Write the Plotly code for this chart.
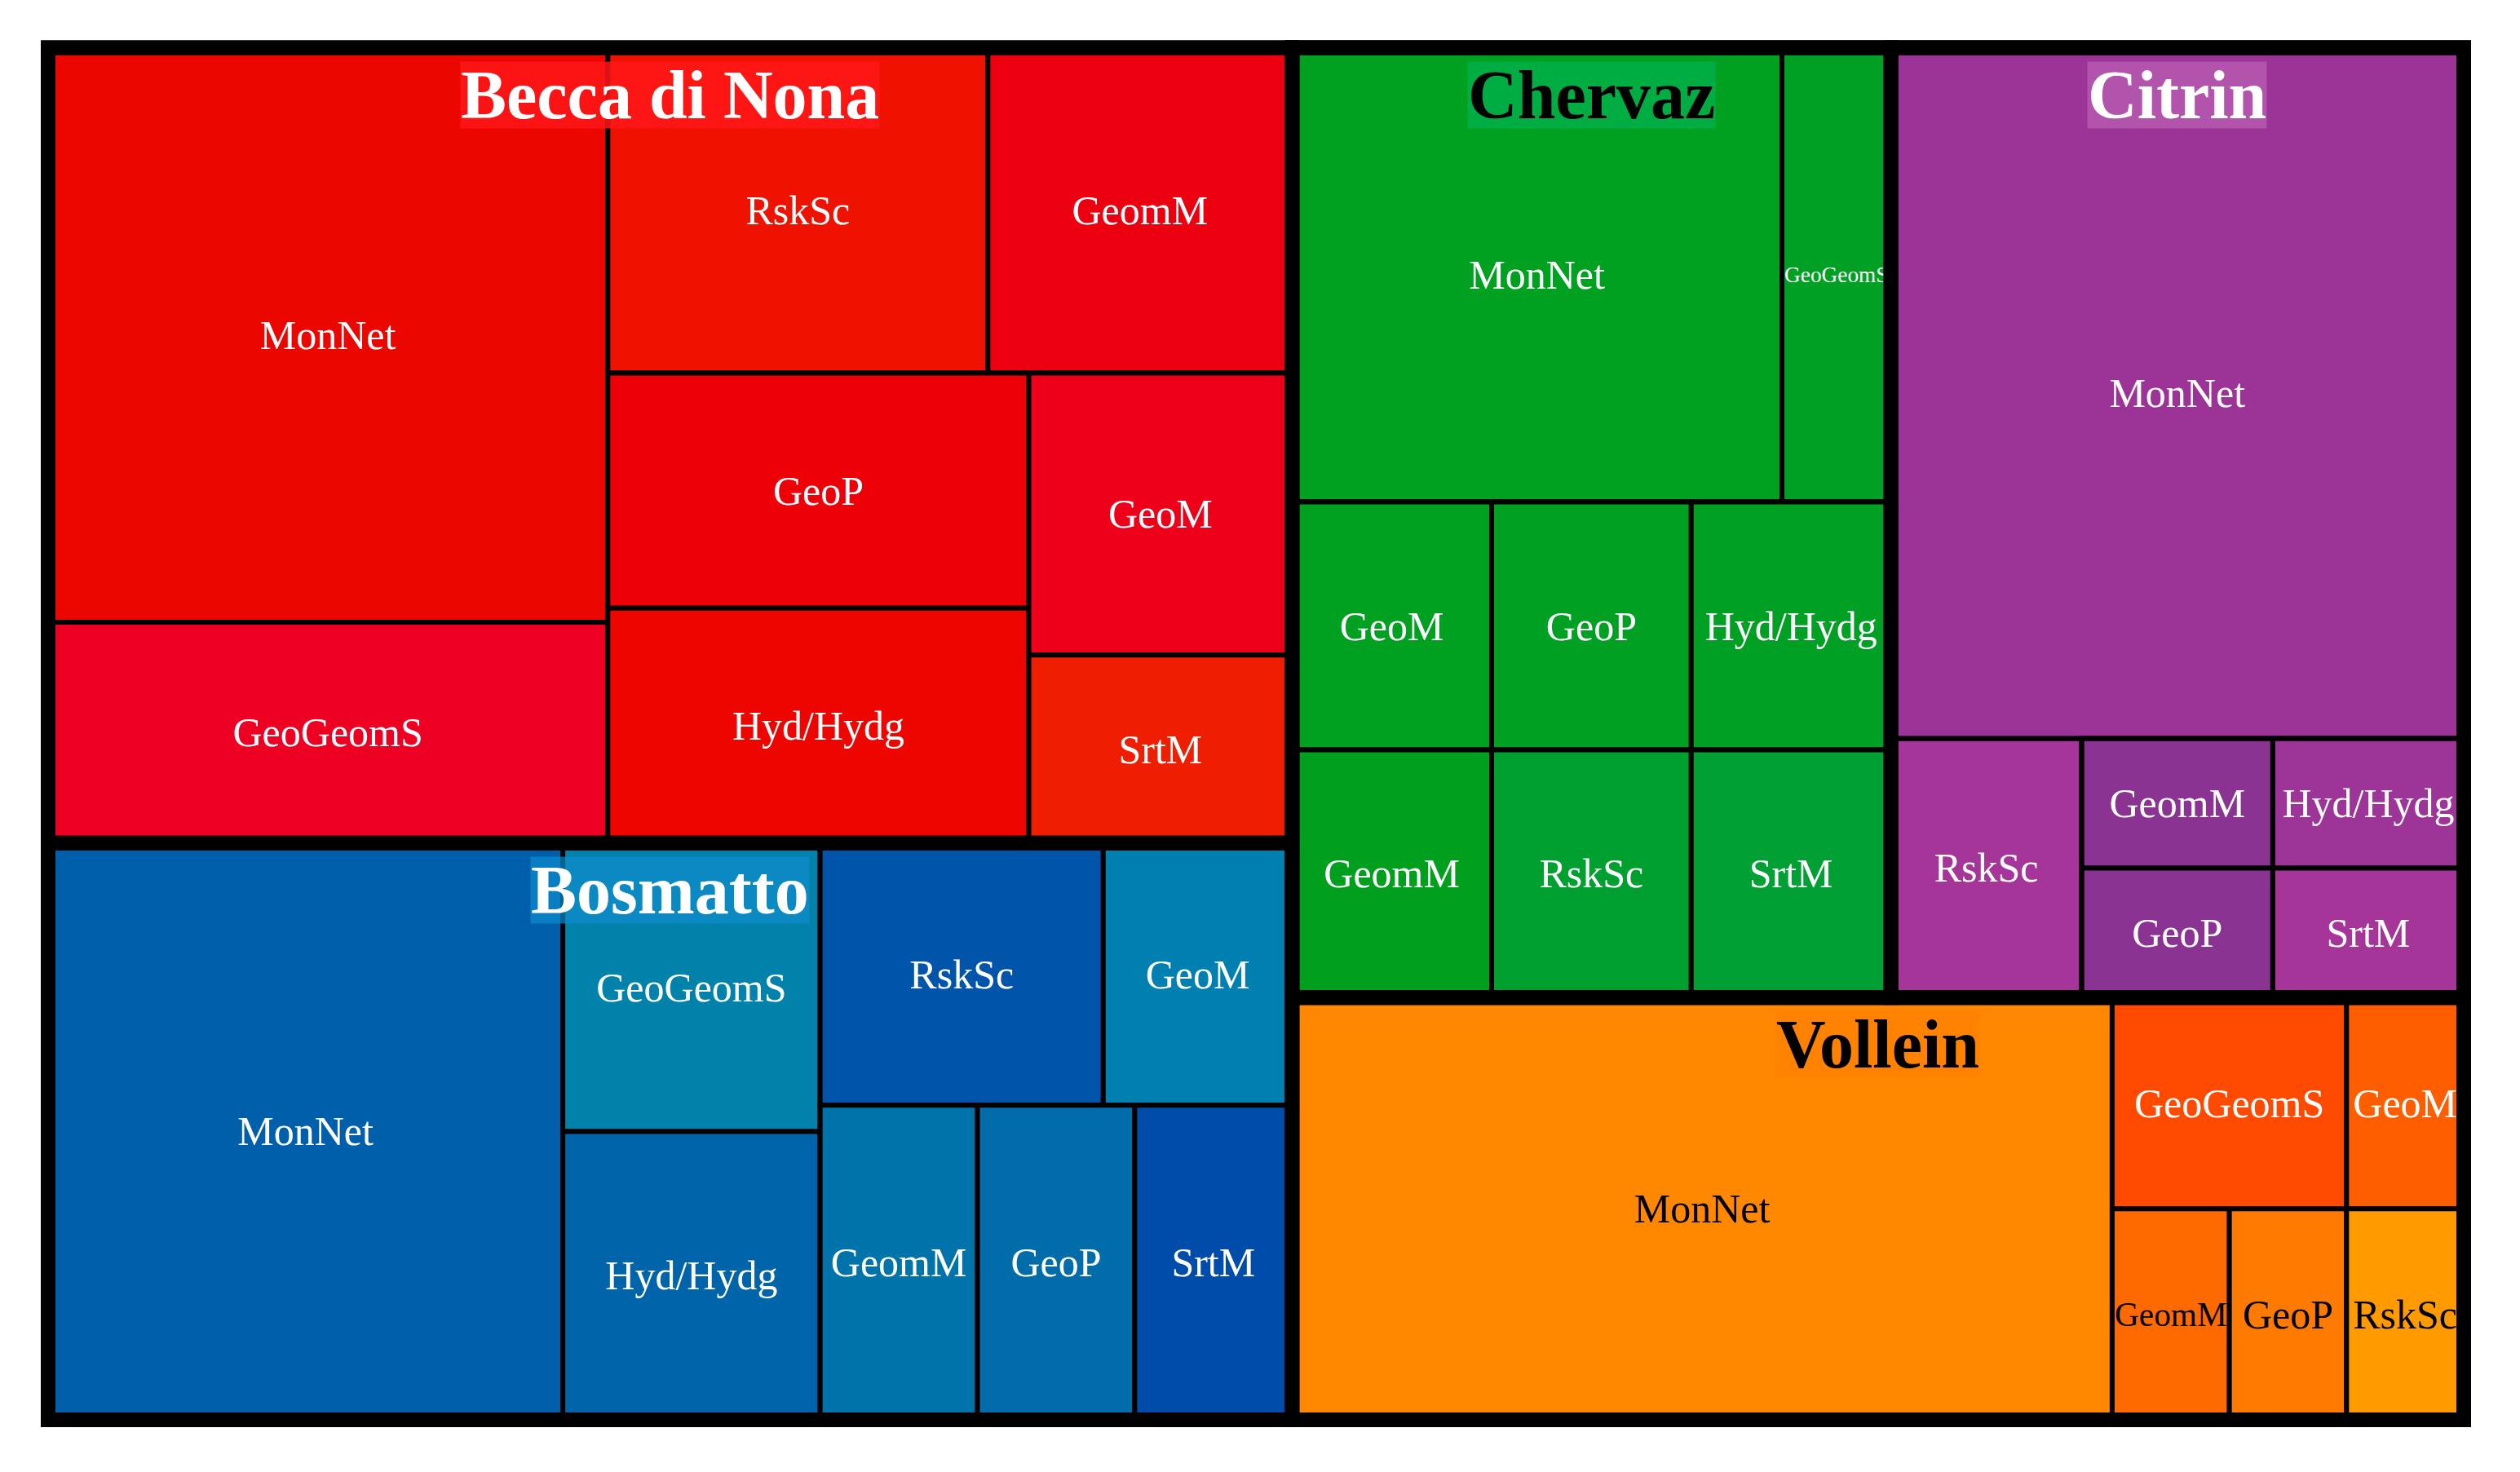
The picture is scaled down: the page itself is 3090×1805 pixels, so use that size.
import plotly.graph_objects as go

# sites (top level) and where they sit in the slice/dice nesting
sites = ["Becca di Nona", "Bosmatto", "Chervaz", "Citrin", "Vollein"]
site_blocks = ["L", "L", "R/T", "R/T", "R"]
site_label_colors = ["white", "white", "black", "white", "black"]
site_label_bg = ["rgba(255,24,24,0.85)", "rgba(14,140,205,0.7)", "rgba(0,178,78,0.75)",
                 "rgba(190,100,185,0.65)", "rgba(255,126,0,0.6)"]

becca_tiles = ["MonNet", "GeoGeomS", "RskSc", "GeomM", "GeoP", "Hyd/Hydg", "GeoM", "SrtM"]
becca_counts = [13, 5, 5, 4, 4, 4, 3, 2]
becca_blocks = ["a", "a", "b/a", "b/a", "b/b/a", "b/b/a", "b/b/b", "b/b/b"]
becca_colors = ["#EC0600", "#EE0022", "#EF1200", "#EC0010", "#EE0008", "#EE0500", "#EE001A", "#F01E00"]
becca_text = ["white"] * 8

bosmatto_tiles = ["MonNet", "GeoGeomS", "Hyd/Hydg", "RskSc", "GeoM", "GeomM", "GeoP", "SrtM"]
bosmatto_counts = [12, 3, 3, 3, 2, 2, 2, 2]
bosmatto_blocks = ["", "a", "a", "b/a", "b/a", "b/b", "b/b", "b/b"]
bosmatto_colors = ["#005FAA", "#0082AA", "#0064AA", "#0055AA", "#0080B0", "#0073AA", "#006CAA", "#004CAA"]
bosmatto_text = ["white"] * 8

chervaz_tiles = ["MonNet", "GeoGeomS", "GeoM", "GeomM", "GeoP", "RskSc", "Hyd/Hydg", "SrtM"]
chervaz_counts = [9, 2, 2, 2, 2, 2, 2, 2]
chervaz_blocks = ["a", "a", "b/a", "b/a", "b/b", "b/b", "b/c", "b/c"]
chervaz_colors = ["#00A020", "#00A024", "#00A020", "#00A01E", "#00A022", "#00A030", "#00A024", "#00A035"]
chervaz_text = ["white"] * 8

citrin_tiles = ["MonNet", "RskSc", "GeomM", "Hyd/Hydg", "GeoP", "SrtM"]
citrin_counts = [16, 2, 1, 1, 1, 1]
citrin_blocks = ["", "a", "a/g/a", "a/g/a", "a/g/b", "a/g/b"]
citrin_colors = ["#9B3496", "#A63599", "#8A3393", "#9C3597", "#8A3393", "#A63599"]
citrin_text = ["white"] * 6

vollein_tiles = ["MonNet", "GeoGeomS", "GeoM", "GeomM", "GeoP", "RskSc"]
vollein_counts = [14, 2, 1, 1, 1, 1]
vollein_blocks = ["", "a/a", "a/a", "a/b", "a/b", "a/b"]
vollein_colors = ["#FF8800", "#FF4A00", "#FF5E00", "#FF6A00", "#FF7A00", "#FF9A00"]
vollein_text = ["black", "white", "white", "black", "black", "black"]

site_tiles = [becca_tiles, bosmatto_tiles, chervaz_tiles, citrin_tiles, vollein_tiles]
site_counts = [becca_counts, bosmatto_counts, chervaz_counts, citrin_counts, vollein_counts]
site_tile_blocks = [becca_blocks, bosmatto_blocks, chervaz_blocks, citrin_blocks, vollein_blocks]
site_colors = [becca_colors, bosmatto_colors, chervaz_colors, citrin_colors, vollein_colors]
site_text = [becca_text, bosmatto_text, chervaz_text, citrin_text, vollein_text]

W, H = 3090, 1805
dom_x = [51 / W, 3013 / W]
dom_y = [1 - 1733 / H, 1 - 50.5 / H]


class Tree:
    def __init__(self):
        self.ids, self.labels, self.parents, self.values = [], [], [], []
        self.colors, self.text, self.tcolors = [], [], []

    def add(self, nid, parent, value=0, color="black", txt="", tcolor="white"):
        self.ids.append(nid)
        self.labels.append(txt)
        self.parents.append(parent)
        self.values.append(value)
        self.colors.append(color)
        self.text.append(txt)
        self.tcolors.append(tcolor)

    def ensure(self, base, block, color="black"):
        cur = base
        if block:
            for seg in block.split("/"):
                nxt = cur + "/" + seg
                if nxt not in self.ids:
                    self.add(nxt, cur, color=color)
                cur = nxt
        return cur


tiles = Tree()
frame = Tree()
tiles.add("root", "")
frame.add("root", "", color="rgba(0,0,0,0)")
for i, site in enumerate(sites):
    blk = tiles.ensure("root", site_blocks[i])
    frame.ensure("root", site_blocks[i], color="rgba(0,0,0,0)")
    sid = blk + "/" + site
    tiles.add(sid, blk)
    frame.add(sid, blk, value=sum(site_counts[i]), color="rgba(0,0,0,0)")
    for j, name in enumerate(site_tiles[i]):
        pid = tiles.ensure(sid, site_tile_blocks[i][j])
        tiles.add(pid + "/" + name, pid, site_counts[i][j], site_colors[i][j],
                  name, site_text[i][j])

fig = go.Figure()
fig.add_trace(go.Treemap(
    ids=tiles.ids, labels=tiles.labels, parents=tiles.parents, values=tiles.values,
    branchvalues="remainder", sort=False,
    tiling=dict(packing="slice-dice", pad=0),
    marker=dict(colors=tiles.colors, line=dict(color="black", width=6),
                pad=dict(t=0, l=0, r=0, b=0)),
    text=tiles.text, textinfo="text", textposition="middle center",
    textfont=dict(family="Liberation Serif", size=50, color=tiles.tcolors),
    pathbar=dict(visible=False), root=dict(color="black"),
    domain=dict(x=dom_x, y=dom_y), hoverinfo="skip",
))
# thick frame around each site, drawn on top with the same layout
fig.add_trace(go.Treemap(
    ids=frame.ids, labels=frame.labels, parents=frame.parents, values=frame.values,
    branchvalues="remainder", sort=False,
    tiling=dict(packing="slice-dice", pad=0),
    marker=dict(colors=frame.colors, line=dict(color="black", width=18),
                pad=dict(t=0, l=0, r=0, b=0)),
    text=frame.text, textinfo="text",
    pathbar=dict(visible=False), root=dict(color="rgba(0,0,0,0)"),
    domain=dict(x=dom_x, y=dom_y), hoverinfo="skip",
))

# site titles at the top centre of each site block
tot = [sum(c) for c in site_counts]
fl = (tot[0] + tot[1]) / sum(tot)
ft = (tot[2] + tot[3]) / (tot[2] + tot[3] + tot[4])
fc = tot[2] / (tot[2] + tot[3])
dw = dom_x[1] - dom_x[0]
dh = dom_y[1] - dom_y[0]
cx = [dom_x[0] + dw * fl / 2,
      dom_x[0] + dw * fl / 2,
      dom_x[0] + dw * (fl + (1 - fl) * fc / 2),
      dom_x[0] + dw * (fl + (1 - fl) * (fc + (1 - fc) / 2)),
      dom_x[0] + dw * (fl + (1 - fl) / 2)]
ty = [dom_y[1],
      dom_y[1] - dh * tot[0] / (tot[0] + tot[1]),
      dom_y[1],
      dom_y[1],
      dom_y[1] - dh * ft]
for i, site in enumerate(sites):
    fig.add_annotation(
        x=cx[i], y=ty[i], xref="paper", yref="paper", xanchor="center", yanchor="top",
        yshift=-16, height=81, valign="middle", text="<b>" + site + "</b>", showarrow=False,
        font=dict(family="Liberation Serif", size=84, color=site_label_colors[i]),
        bgcolor=site_label_bg[i], borderpad=0,
    )

fig.update_layout(width=W, height=H, margin=dict(l=0, r=0, t=0, b=0),
                  paper_bgcolor="white", showlegend=False)
fig.write_html("out.html")
